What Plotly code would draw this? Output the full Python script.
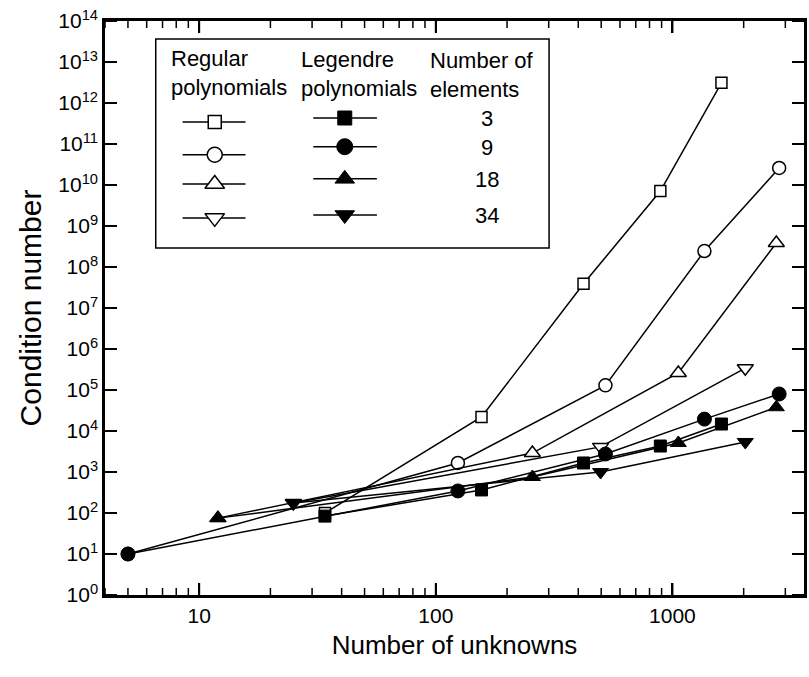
import math
import plotly.graph_objects as go

# ---------------- data ----------------
x_el3 = [34, 156, 421, 889, 1611]
y_reg3 = [1.0e2, 2.2e4, 3.9e7, 7.1e9, 3.1e12]
y_leg3 = [84, 365, 1660, 4300, 14800]

x_el9 = [5, 124, 521, 1365, 2825]
y_reg9 = [10, 1660, 1.3e5, 2.45e8, 2.6e10]
y_leg9 = [10, 345, 2750, 1.95e4, 8.0e4]

x_el18 = [12, 256, 1059, 2748]
y_reg18 = [75, 2900, 2.6e5, 3.85e8]
y_leg18 = [75, 755, 5100, 3.8e4]

x_el34 = [25, 497, 2032]
y_reg34 = [175, 4100, 3.4e5]
y_leg34 = [175, 1000, 5400]

element_counts = ["3", "9", "18", "34"]
x_tick_vals = [10, 100, 1000]
x_tick_text = ["10", "100", "1000"]
y_exponents = list(range(0, 15))

FONT = "Liberation Sans, Arial, sans-serif"
X_RANGE = [0.602, 3.556]
Y_RANGE = [0, 14]
W, H = 809, 677
M = dict(l=105, r=2, t=21, b=82)
PLOT_W = W - M["l"] - M["r"]
PLOT_H = H - M["t"] - M["b"]

fig = go.Figure()

open_styles = [("square", 11), ("circle", 13), ("triangle-up", 14), ("triangle-down", 14)]
fill_styles = [("square", 12), ("circle", 14), ("triangle-up", 14), ("triangle-down", 14)]

reg_series = [(x_el3, y_reg3), (x_el9, y_reg9), (x_el18, y_reg18), (x_el34, y_reg34)]
leg_series = [(x_el3, y_leg3), (x_el9, y_leg9), (x_el18, y_leg18), (x_el34, y_leg34)]

for (xs, ys), (sym, sz) in zip(reg_series, open_styles):
    fig.add_trace(go.Scatter(
        x=xs, y=ys, mode="lines+markers",
        line=dict(color="black", width=1.5),
        marker=dict(symbol=sym, size=sz, color="white",
                    line=dict(color="black", width=1.5)),
        showlegend=False))

for (xs, ys), (sym, sz) in zip(leg_series, fill_styles):
    fig.add_trace(go.Scatter(
        x=xs, y=ys, mode="lines+markers",
        line=dict(color="black", width=1.5),
        marker=dict(symbol=sym, size=sz, color="black",
                    line=dict(color="black", width=1)),
        showlegend=False))

# ---------------- custom legend (positions as fractions of the plot area) ----------------
def fx(f):
    return 10 ** (X_RANGE[0] + f * (X_RANGE[1] - X_RANGE[0]))

def fy(f):
    return 10 ** (Y_RANGE[0] + f * (Y_RANGE[1] - Y_RANGE[0]))

reg_line_x = [0.111, 0.201]
reg_mark_x = 0.157
leg_line_x = [0.298, 0.389]
leg_mark_x = 0.343
reg_rows = [0.824, 0.767, 0.716, 0.657]
leg_rows = [0.831, 0.781, 0.725, 0.662]
legend_open_sizes = [13, 15, 17, 17]
legend_fill_sizes = [14, 16, 17, 17]

for i in range(4):
    fig.add_trace(go.Scatter(
        x=[fx(v) for v in reg_line_x], y=[fy(reg_rows[i])] * 2, mode="lines",
        line=dict(color="black", width=1.5), showlegend=False))
    fig.add_trace(go.Scatter(
        x=[fx(reg_mark_x)], y=[fy(reg_rows[i])], mode="markers",
        marker=dict(symbol=open_styles[i][0], size=legend_open_sizes[i],
                    color="white", line=dict(color="black", width=1.5)),
        showlegend=False))
    fig.add_trace(go.Scatter(
        x=[fx(v) for v in leg_line_x], y=[fy(leg_rows[i])] * 2, mode="lines",
        line=dict(color="black", width=1.5), showlegend=False))
    fig.add_trace(go.Scatter(
        x=[fx(leg_mark_x)], y=[fy(leg_rows[i])], mode="markers",
        marker=dict(symbol=fill_styles[i][0], size=legend_fill_sizes[i],
                    color="black", line=dict(color="black", width=1)),
        showlegend=False))

annotations = [
    dict(x=0.0912, y=0.909, text="Regular<br>polynomials", xanchor="left", yanchor="middle", align="left"),
    dict(x=0.2778, y=0.908, text="Legendre<br>polynomials", xanchor="left", yanchor="middle", align="left"),
    dict(x=0.4615, y=0.906, text="Number of<br>elements", xanchor="left", yanchor="middle", align="left"),
]
num_x = 0.547
num_y = [0.831, 0.780, 0.723, 0.662]
for t, yy in zip(element_counts, num_y):
    annotations.append(dict(x=num_x, y=yy, text=t, xanchor="center", yanchor="middle"))
for a in annotations:
    a.update(xref="paper", yref="paper", showarrow=False,
             font=dict(family=FONT, size=22, color="black"))

shapes = [dict(type="rect", xref="paper", yref="paper",
               x0=0.0726, x1=0.6353, y0=0.6045, y1=0.9686,
               line=dict(color="black", width=1.5))]

# tick marks on all four sides, placed through the axis ranges
MAJ, MIN = 12, 7
def xfrac(v):
    return (math.log10(v) - X_RANGE[0]) / (X_RANGE[1] - X_RANGE[0])

for e in y_exponents:
    yf = (e - Y_RANGE[0]) / (Y_RANGE[1] - Y_RANGE[0])
    for x0, x1 in ((0, MAJ / PLOT_W), (1 - MAJ / PLOT_W, 1)):
        shapes.append(dict(type="line", xref="paper", yref="paper", x0=x0, x1=x1,
                           y0=yf, y1=yf, line=dict(color="black", width=2)))

minor_vals = [d * 10 ** k for k in range(0, 4) for d in range(2, 10)]
minor_vals = [v for v in minor_vals if X_RANGE[0] < math.log10(v) < X_RANGE[1]]
for vals, ln, wd in ((x_tick_vals, MAJ, 2), (minor_vals, MIN, 1.5)):
    for v in vals:
        xf = xfrac(v)
        for y0, y1 in ((0, ln / PLOT_H), (1 - ln / PLOT_H, 1)):
            shapes.append(dict(type="line", xref="paper", yref="paper", x0=xf, x1=xf,
                               y0=y0, y1=y1, line=dict(color="black", width=wd)))

fig.update_layout(
    width=W, height=H,
    margin=M,
    paper_bgcolor="white", plot_bgcolor="white",
    annotations=annotations,
    shapes=shapes,
    xaxis=dict(
        type="log", range=X_RANGE,
        tickmode="array", tickvals=x_tick_vals, ticktext=x_tick_text,
        ticks="inside", ticklen=MAJ, tickwidth=2, tickcolor="black",
        showline=True, linewidth=2.5, linecolor="black", mirror="ticks",
        showgrid=False, zeroline=False,
        tickfont=dict(family=FONT, size=21, color="black"),
        title=dict(text="Number of unknowns", font=dict(family=FONT, size=26, color="black"), standoff=10),
    ),
    yaxis=dict(
        type="log", range=Y_RANGE,
        tickmode="array", tickvals=[10 ** e for e in y_exponents],
        ticktext=["10<sup>%d</sup>" % e for e in y_exponents],
        ticks="inside", ticklen=MAJ, tickwidth=2, tickcolor="black",
        showline=True, linewidth=2.5, linecolor="black", mirror="ticks",
        showgrid=False, zeroline=False,
        tickfont=dict(family=FONT, size=21, color="black"),
        title=dict(text="Condition number", font=dict(family=FONT, size=30, color="black"), standoff=8),
    ),
)

fig.write_html("out.html")
